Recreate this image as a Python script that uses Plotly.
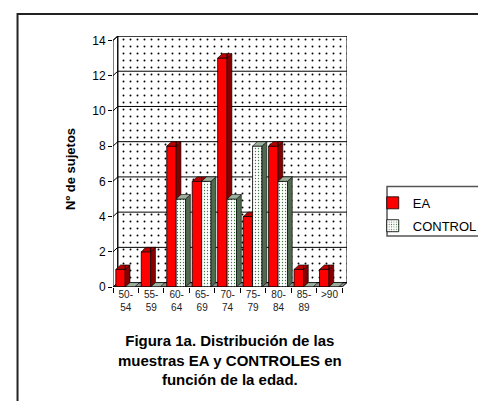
import plotly.graph_objects as go

# ---- data ----
categories = ["50-<br>54", "55-<br>59", "60-<br>64", "65-<br>69", "70-<br>74",
              "75-<br>79", "80-<br>84", "85-<br>89", ">90"]
ea_values = [1, 2, 8, 6, 13, 4, 8, 1, 1]
control_values = [0, 0, 5, 6, 5, 8, 6, 0, 0]
y_ticks = [0, 2, 4, 6, 8, 10, 12, 14]

# ---- geometry (style) ----
DX, DY = 0.1875, 0.25          # 3D depth in data units
EA_OFF, EA_W = -0.39, 0.37
CT_OFF, CT_W = -0.02, 0.37
YMAX = 14
xs = list(range(len(categories)))
XL, XR = -0.5, len(categories) - 0.5


def clip(poly, axis, val, keep_ge):
    out = []
    n = len(poly)
    for k in range(n):
        p, q = poly[k], poly[(k + 1) % n]
        pin = (p[axis] >= val) if keep_ge else (p[axis] <= val)
        qin = (q[axis] >= val) if keep_ge else (q[axis] <= val)
        if pin:
            out.append(p)
        if pin != qin:
            t = (val - p[axis]) / (q[axis] - p[axis])
            out.append((p[0] + t * (q[0] - p[0]), p[1] + t * (q[1] - p[1])))
    return out


def to_xy(polys):
    X, Y = [], []
    for poly in polys:
        if len(poly) < 3:
            continue
        for (a, b) in poly + [poly[0]]:
            X.append(a)
            Y.append(b)
        X.append(None)
        Y.append(None)
    return X, Y


def faces(i, v, off, w):
    xl, xr = i + off, i + off + w
    top = [(xl, v), (xl + DX, v + DY), (xr + DX, v + DY), (xr, v)]
    side = [(xr, 0), (xr + DX, DY), (xr + DX, v + DY), (xr, v)] if v > 0 else []
    return top, side


ea_tops, ea_sides, ct_tops, ct_sides = [], [], [], []
for i in xs:
    v, c = ea_values[i], control_values[i]
    top, side = faces(i, v, EA_OFF, EA_W)
    xr = i + EA_OFF + EA_W
    if side:
        ea_sides.append(clip(side, 1, c, True))
    ea_tops.append(clip(top, 0, xr, False))
    ea_tops.append(clip(clip(top, 0, xr, True), 1, c, True))
    top, side = faces(i, c, CT_OFF, CT_W)
    ct_tops.append(top)
    if side:
        ct_sides.append(side)

fig = go.Figure()

# dotted back wall
fig.add_trace(go.Bar(
    x=[DX], y=[YMAX], base=[DY], width=[XR - XL], offset=-0.5,
    marker=dict(color="rgba(0,0,0,0)", line=dict(width=0),
                pattern=dict(shape=".", fgcolor="#000000", bgcolor="rgba(0,0,0,0)",
                             size=7, solidity=0.06, fillmode="replace")),
    showlegend=False, hoverinfo="skip"))

fig.add_trace(go.Bar(
    x=xs, y=ea_values, name="EA", offset=EA_OFF, width=EA_W, legendgroup="ea",
    marker=dict(color="#FF0000", line=dict(color="#000000", width=0.8))))
fig.add_trace(go.Bar(
    x=xs, y=control_values, name="CONTROL", offset=CT_OFF, width=CT_W, legendgroup="ct",
    marker=dict(color="#FFFFFF", line=dict(color="#000000", width=0.8),
                pattern=dict(shape=".", fgcolor="#3F7A3F", bgcolor="#FFFFFF",
                             size=3, solidity=0.15, fillmode="replace"))))

for polys, col in [(ea_sides, "#870000"), (ea_tops, "#B80000"),
                   (ct_sides, "#4F6A4F"), (ct_tops, "#9DB09D")]:
    X, Y = to_xy(polys)
    fig.add_trace(go.Scatter(x=X, y=Y, mode="lines", fill="toself", fillcolor=col,
                             line=dict(color="#000000", width=0.6),
                             showlegend=False, hoverinfo="skip"))


def path(pts, close=True):
    s = "M " + " L ".join(f"{a},{b}" for a, b in pts)
    return s + (" Z" if close else "")


shapes = []
# floor
shapes.append(dict(type="path", xref="x", yref="y", layer="below",
                   path=path([(XL, 0), (XR, 0), (XR + DX, DY), (XL + DX, DY)]),
                   fillcolor="#8C8C8C", line=dict(color="#000000", width=1)))
# left wall
shapes.append(dict(type="path", xref="x", yref="y", layer="below",
                   path=path([(XL, 0), (XL + DX, DY), (XL + DX, YMAX + DY), (XL, YMAX)]),
                   fillcolor="#FFFFFF", line=dict(color="#000000", width=1)))
# back wall border
shapes.append(dict(type="rect", xref="x", yref="y", layer="below",
                   x0=XL + DX, x1=XR + DX, y0=DY, y1=YMAX + DY,
                   line=dict(color="#000000", width=1)))
# gridlines
for t in y_ticks[1:]:
    shapes.append(dict(type="path", xref="x", yref="y", layer="below",
                       path=path([(XL, t), (XL + DX, t + DY), (XR + DX, t + DY)], close=False),
                       line=dict(color="#000000", width=1)))
# front axis line
shapes.append(dict(type="line", xref="x", yref="y", layer="above",
                   x0=XL, x1=XR, y0=0, y1=0, line=dict(color="#000000", width=1.2)))
# outer chart border
shapes.append(dict(type="rect", xref="paper", yref="paper",
                   x0=-0.408, x1=1.6, y0=-0.55, y1=1.088,
                   line=dict(color="#222222", width=2)))
# legend border
shapes.append(dict(type="rect", xref="paper", yref="paper",
                   x0=1.171, x1=1.6, y0=0.203, y1=0.400,
                   line=dict(color="#555555", width=1.5)))

fig.update_layout(
    width=486, height=401,
    margin=dict(l=105, r=136, t=28, b=122),
    paper_bgcolor="#FFFFFF", plot_bgcolor="#FFFFFF",
    barmode="overlay",
    font=dict(family="Liberation Sans, Arial, sans-serif", color="#000000"),
    shapes=shapes,
    showlegend=True,
    legend=dict(x=1.11, y=0.395, xanchor="left", yanchor="top",
                bgcolor="rgba(0,0,0,0)", borderwidth=0,
                font=dict(size=13, color="#000000"), itemwidth=30,
                tracegroupgap=3),
    xaxis=dict(range=[XL, XR + DX], tickmode="array", tickvals=xs, ticktext=categories,
               ticks="", showgrid=False, zeroline=False, showline=False,
               tickfont=dict(size=10, color="#222222"),
               minor=dict(tick0=-0.5, dtick=1, ticks="outside", ticklen=5,
                          tickcolor="#000000", showgrid=False)),
    yaxis=dict(range=[0, YMAX + DY], tickmode="array", tickvals=y_ticks,
               ticks="outside", ticklen=4, tickcolor="#000000",
               showgrid=False, zeroline=False, showline=False,
               tickfont=dict(size=12, color="#000000")),
    annotations=[
        dict(text="<b>Figura 1a. Distribución de las<br>muestras EA y CONTROLES en<br>función de la edad.</b>",
             xref="paper", yref="paper", x=0.50, y=-0.172, xanchor="center", yanchor="top",
             showarrow=False, align="center", font=dict(size=15, color="#000000")),
        dict(text="<b>Nº de sujetos</b>", xref="paper", yref="paper",
             x=-0.184, y=0.47, textangle=-90, showarrow=False,
             xanchor="center", yanchor="middle", font=dict(size=13, color="#000000")),
    ],
)

fig.write_html("out.html")
